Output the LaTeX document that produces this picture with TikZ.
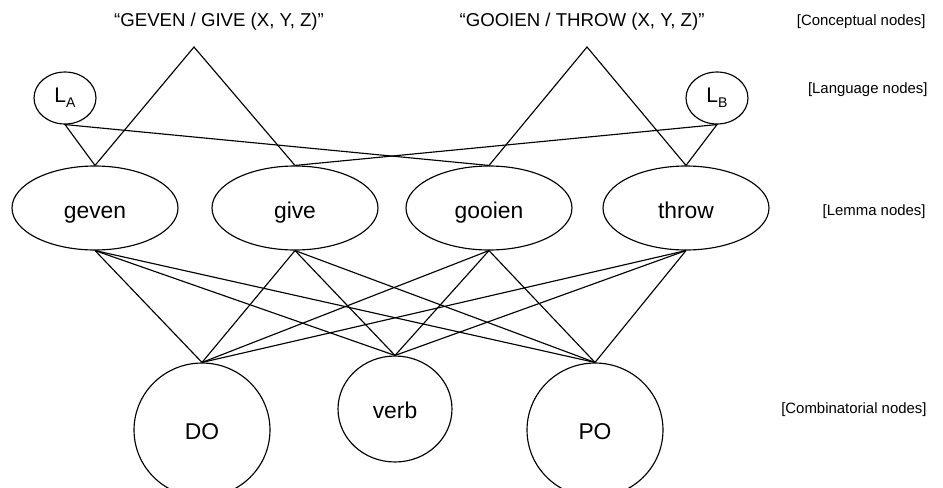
\documentclass[tikz,border=0pt]{standalone}
\usepackage{fontspec}
\setmainfont{Liberation Sans}
\usetikzlibrary{shapes.geometric}

\newcommand{\langsub}[1]{L\raisebox{-0.45ex}{\fontsize{8}{9}\selectfont #1}}

\tikzset{
  lemma/.style={draw, ellipse, inner sep=0pt, minimum width=3.32cm,
    minimum height=1.68cm, text height=2.8ex, text depth=0.5ex,
    font=\fontsize{13}{15}\selectfont},
  langnode/.style={draw, ellipse, inner sep=0pt, minimum width=1.24cm,
    minimum height=1.04cm, font=\fontsize{12}{14}\selectfont},
  combnode/.style={draw, ellipse, inner sep=0pt, text height=2.5ex,
    text depth=0.5ex, font=\fontsize{13}{15}\selectfont},
  concept/.style={font=\fontsize{10.6}{12}\selectfont},
  layer/.style={anchor=east, font=\fontsize{8.5}{10}\selectfont}
}

\begin{document}
\begin{tikzpicture}[x=0.02cm, y=-0.02cm, line width=0.65pt]
  \useasboundingbox (0,0) rectangle (943,487);
  % conceptual nodes
  \node[concept] (cgive) at (219,22) {“GEVEN / GIVE (X, Y, Z)”};
  \node[concept] (cthrow) at (582,22) {“GOOIEN / THROW (X, Y, Z)”};
  \coordinate (tgive) at (194,47);
  \coordinate (tthrow) at (587,47);
  % language nodes
  \node[langnode] (LA) at (65,98) {\langsub{A}};
  \node[langnode] (LB) at (717,98) {\langsub{B}};
  % lemma nodes
  \node[lemma] (geven) at (95,208) {geven};
  \node[lemma] (give) at (295,208) {give};
  \node[lemma] (gooien) at (489,208) {gooien};
  \node[lemma] (throw) at (686,208) {throw};
  % combinatorial nodes
  \node[combnode, minimum width=2.72cm, minimum height=2.68cm] (DO) at (202,430) {DO};
  \node[combnode, minimum width=2.28cm, minimum height=2.12cm] (verb) at (395,409) {verb};
  \node[combnode, minimum width=2.72cm, minimum height=2.68cm] (PO) at (595,430) {PO};
  % layer labels
  \node[layer] (lconc) at (932,22) {[Conceptual nodes]};
  \node[layer] (llang) at (934,90) {[Language nodes]};
  \node[layer] (llem) at (932,212) {[Lemma nodes]};
  \node[layer] (lcomb) at (933,410) {[Combinatorial nodes]};
  % links
  \draw (geven.north) -- (tgive) -- (give.north);
  \draw (gooien.north) -- (tthrow) -- (throw.north);
  \draw (geven.north) -- (LA.south) -- (gooien.north);
  \draw (give.north) -- (LB.south) -- (throw.north);
  \foreach \lem in {geven,give,gooien,throw}
    \foreach \comb in {DO,verb,PO}
      \draw (\lem.south) -- (\comb.north);
\end{tikzpicture}
\end{document}
